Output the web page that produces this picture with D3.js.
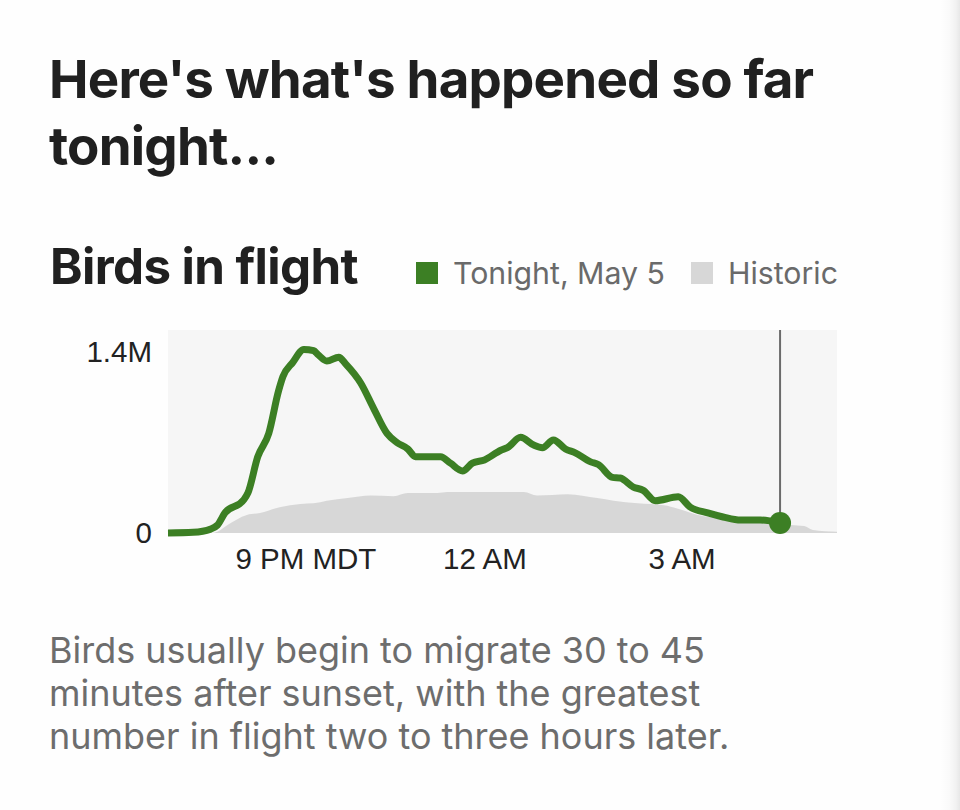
<!DOCTYPE html>
<html>
<head>
<meta charset="utf-8">
<script src="https://cdn.jsdelivr.net/npm/d3@7"></script>
<style>
  html, body { margin: 0; padding: 0; background: #fefefe; }
  body { width: 960px; height: 810px; overflow: hidden; position: relative; }
  #edge { position: absolute; top: 0; right: 0; width: 20px; height: 810px;
    background: linear-gradient(to right, rgba(0,0,0,0) 0%, rgba(0,0,0,0.02) 50%, rgba(0,0,0,0.05) 80%, rgba(0,0,0,0.09) 100%); }
</style>
</head>
<body>
<div id="edge"></div>
<script>
// ---------- data ----------
const titleLines = ["Here's what's happened so far", "tonight..."];
const chartTitle = "Birds in flight";
const legendLabels = ["Tonight, May 5", "Historic"];
const noteLines = [
  "Birds usually begin to migrate 30 to 45",
  "minutes after sunset, with the greatest",
  "number in flight two to three hours later."
];

// Tonight (May 5) — time (HH:MM, MDT) and birds in flight (millions)
const tonightTimes = ["19:11","19:34","19:50","19:56","20:03","20:20","20:24","20:33","20:43","20:52","20:56",
  "21:05","21:15","21:24","21:28","21:36","21:47","21:53","22:07","22:19","22:31","22:40","22:50","22:57",
  "23:20","23:29","23:40","23:49","00:00","00:15","00:21","00:33","00:45","00:53","01:03","01:14","01:23",
  "01:37","01:44","01:57","02:04","02:16","02:25","02:36","02:57","03:08","03:24","03:38","03:54","04:12","04:30"];
const tonightValues = [0,0.005,0.03,0.06,0.155,0.255,0.31,0.59,0.77,1.10,1.21,
  1.32,1.42,1.41,1.38,1.33,1.36,1.31,1.16,0.96,0.77,0.70,0.65,0.59,
  0.59,0.54,0.48,0.54,0.565,0.64,0.66,0.74,0.68,0.66,0.72,0.65,0.62,
  0.55,0.53,0.43,0.425,0.355,0.33,0.25,0.28,0.20,0.155,0.124,0.10,0.10,0.077];

// Historic average — time and birds in flight (millions)
const historicTimes = ["19:11","19:50","19:56","20:05","20:23","20:35","20:53","21:12","21:24","21:36","21:55",
  "22:16","22:37","22:50","23:17","23:26","00:05","00:36","00:48","01:16","01:43","01:58","02:20","02:44",
  "02:56","03:15","03:38","03:57","04:21","04:40","04:52","05:00","05:22"];
const historicValues = [0,0,0.01,0.06,0.14,0.155,0.20,0.225,0.23,0.25,0.27,
  0.29,0.285,0.31,0.31,0.317,0.317,0.317,0.29,0.30,0.27,0.25,0.23,0.215,
  0.19,0.14,0.116,0.10,0.085,0.062,0.054,0.023,0.01];

const domainTimes = ["19:11", "05:22"];
const nowTime = "04:30";
const xTickTimes = ["21:00", "00:00", "03:00"];
const xTickLabels = ["9 PM MDT", "12 AM", "3 AM"];
const yTickValues = [0, 1.4];
const yTickLabels = ["0", "1.4M"];
const yMax = 1.57;

// ---------- helpers ----------
function toDate(s) {
  const [h, m] = s.split(":").map(Number);
  return h >= 12 ? new Date(2023, 4, 5, h, m) : new Date(2023, 4, 6, h, m);
}
// scale a text element's font-size so that its rendered width equals target
function fit(sel, target) {
  sel.each(function () {
    const fs = parseFloat(this.getAttribute("font-size"));
    const w = this.getComputedTextLength();
    if (w > 0) this.setAttribute("font-size", (fs * target / w).toFixed(2));
  });
}
const tonight = tonightTimes.map((t, i) => ({ t: toDate(t), v: tonightValues[i] }));
const historic = historicTimes.map((t, i) => ({ t: toDate(t), v: historicValues[i] }));

const green = "#3c7f24";
const histGray = "#d7d7d7";
const sans = "Inter, 'Noto Sans', sans-serif";
const helv = "'Liberation Sans', Arial, sans-serif";

const svg = d3.select("body").append("svg")
  .attr("width", 960).attr("height", 810)
  .style("position", "absolute").style("left", 0).style("top", 0)
  .style("font-family", helv);

// titles
const titles = svg.selectAll("text.title").data(titleLines).join("text")
  .attr("class", "title")
  .attr("x", 49).attr("y", (d, i) => 98 + i * 67)
  .attr("font-family", sans).attr("font-weight", 700)
  .attr("font-size", 46).attr("letter-spacing", -0.8)
  .attr("fill", "#202020").text(d => d);
fit(titles.filter((d, i) => i === 0), 761);
titles.filter((d, i) => i === 1).attr("font-size", titles.filter((d, i) => i === 0).attr("font-size"));

const ct = svg.append("text").attr("x", 50).attr("y", 284)
  .attr("font-family", sans).attr("font-weight", 700)
  .attr("font-size", 40).attr("letter-spacing", -0.6)
  .attr("fill", "#202020").text(chartTitle);
fit(ct, 306);

// legend
const legendX = [416, 691];
const legendW = [212, 110];
const legendColors = [green, histGray];
legendLabels.forEach((lab, i) => {
  svg.append("rect").attr("x", legendX[i]).attr("y", 262).attr("width", 22).attr("height", 22)
    .attr("fill", legendColors[i]);
  const t = svg.append("text").attr("x", legendX[i] + 37).attr("y", 284)
    .attr("font-family", sans).attr("font-size", 27).attr("fill", "#6a6a6a").text(lab);
  fit(t, legendW[i]);
});

// chart
const plot = { left: 168, right: 837, top: 330, bottom: 533 };
const x = d3.scaleTime().domain(domainTimes.map(toDate)).range([plot.left, plot.right]);
const y = d3.scaleLinear().domain([0, yMax]).range([plot.bottom, plot.top]);

svg.append("rect").attr("x", plot.left).attr("y", plot.top)
  .attr("width", plot.right - plot.left).attr("height", plot.bottom - plot.top)
  .attr("fill", "#f6f6f6");

svg.append("path").datum(historic)
  .attr("fill", histGray)
  .attr("d", d3.area().x(d => x(d.t)).y0(y(0)).y1(d => y(d.v)).curve(d3.curveMonotoneX));

// y axis
const yAxis = d3.axisLeft(y).tickValues(yTickValues).tickSize(0).tickPadding(16)
  .tickFormat((d, i) => yTickLabels[i]);
const gy = svg.append("g").attr("transform", `translate(${plot.left},0)`).call(yAxis);
gy.select(".domain").remove();
gy.selectAll("text").attr("font-size", 29.5).attr("fill", "#222").attr("font-family", helv);

// x axis
const xAxis = d3.axisBottom(x).tickValues(xTickTimes.map(toDate)).tickSize(0).tickPadding(15)
  .tickFormat((d, i) => xTickLabels[i]);
const gx = svg.append("g").attr("transform", `translate(0,${plot.bottom})`).call(xAxis);
gx.select(".domain").remove();
gx.selectAll("text").attr("font-size", 29.5).attr("fill", "#222").attr("font-family", helv);
gx.selectAll(".tick").filter((d, i) => i === 0).select("text").attr("dx", 18);

// now line
const nowD = toDate(nowTime);
const last = tonight[tonight.length - 1];
svg.append("line").attr("x1", x(nowD)).attr("x2", x(nowD))
  .attr("y1", plot.top).attr("y2", y(last.v))
  .attr("stroke", "#6b6b6b").attr("stroke-width", 2);

svg.append("path").datum(tonight)
  .attr("fill", "none").attr("stroke", green).attr("stroke-width", 7)
  .attr("stroke-linejoin", "round").attr("stroke-linecap", "butt")
  .attr("d", d3.line().x(d => x(d.t)).y(d => y(d.v)).curve(d3.curveMonotoneX));

svg.append("circle").attr("cx", x(last.t)).attr("cy", y(last.v)).attr("r", 11).attr("fill", green);

// note
const notes = svg.selectAll("text.note").data(noteLines).join("text")
  .attr("class", "note")
  .attr("x", 49).attr("y", (d, i) => 663 + i * 43)
  .attr("font-size", 32).attr("fill", "#6d6d6d")
  .attr("font-family", sans)
  .text(d => d);
fit(notes.filter((d, i) => i === 0), 656);
notes.attr("font-size", notes.filter((d, i) => i === 0).attr("font-size"));
</script>
</body>
</html>
